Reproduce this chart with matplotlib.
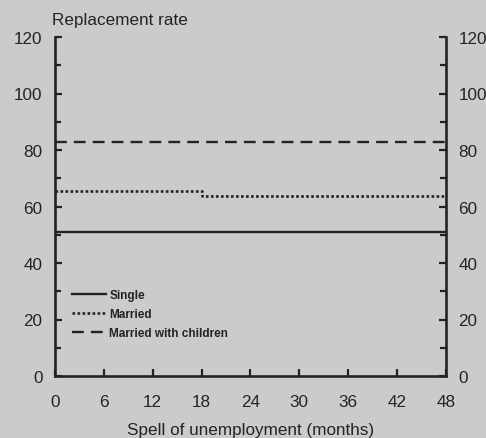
import matplotlib
matplotlib.use("Agg")
import matplotlib.pyplot as plt
from matplotlib.ticker import MultipleLocator

plt.rcParams['font.family'] = ['Liberation Sans', 'DejaVu Sans']

# Replacement rate by month of unemployment (step change at month 18)
months = [0, 18, 48]
single = [51, 50.8, 50.8]
married = [65.5, 63.8, 63.8]
married_children = [83, 83, 83]

series_labels = ["Single", "Married", "Married with children"]
x_ticks = [0, 6, 12, 18, 24, 30, 36, 42, 48]
y_ticks = [0, 20, 40, 60, 80, 100, 120]

bg = "#cbcbcb"
ink = "#232323"
fs = 12.3

fig = plt.figure(figsize=(4.86, 4.39), dpi=100, facecolor=bg)
ax = fig.add_axes([55/486, 1 - 377/439, (446 - 55)/486, (377 - 38)/439])
ax.set_facecolor(bg)

ax.step(months, single, where="post", color=ink, lw=1.7, ls="-", label=series_labels[0])
ax.step(months, married, where="post", color=ink, lw=1.9, ls=(0, (1, 0.9)), label=series_labels[1])
ax.step(months, married_children, where="post", color=ink, lw=1.7, ls=(0, (5, 3)), label=series_labels[2])

ax.set_xlim(0, 48)
ax.set_ylim(0, 120)
ax.set_xticks(x_ticks)
ax.set_yticks(y_ticks)
ax.yaxis.set_minor_locator(MultipleLocator(10))

ax.spines["top"].set_visible(False)
for side in ("left", "right", "bottom"):
    ax.spines[side].set_color(ink)
    ax.spines[side].set_linewidth(1.9)

ax.tick_params(axis="y", which="both", direction="in", left=True, right=True,
               labelleft=True, labelright=True, color=ink, width=1.6)
ax.tick_params(axis="y", which="major", length=5, pad=9)
ax.tick_params(axis="y", which="minor", length=4)
ax.tick_params(axis="x", direction="in", length=5, width=1.6, color=ink, pad=13)
ax.tick_params(labelsize=fs, labelcolor=ink)

ax.set_xlabel("Spell of unemployment (months)", fontsize=fs, color=ink, labelpad=9)
ax.text(-0.008, 1.03, "Replacement rate", transform=ax.transAxes, fontsize=fs,
        color=ink, ha="left", va="bottom")

leg = ax.legend(loc="lower left", bbox_to_anchor=(0.032, 0.094), frameon=False,
                fontsize=8.5, handlelength=2.9, handletextpad=0.25,
                labelspacing=0.6, borderaxespad=0)
for t in leg.get_texts():
    t.set_color(ink)
    t.set_fontweight("bold")

fig.savefig("out.png", dpi=100, facecolor=bg)
